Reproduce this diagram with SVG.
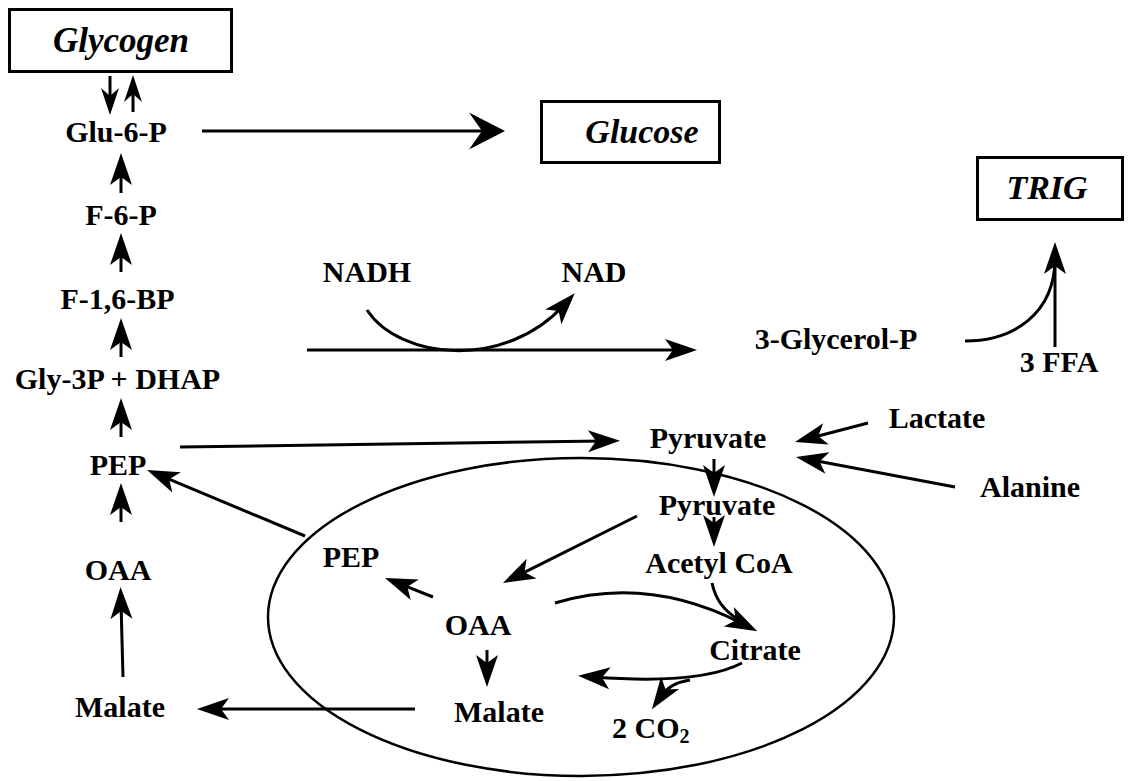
<svg xmlns="http://www.w3.org/2000/svg" width="1134" height="781" viewBox="0 0 1134 781">
<style>
text{font-family:"Liberation Serif","Times New Roman",serif;font-weight:bold;font-size:30px;fill:#000;text-anchor:middle}
.box{font-style:italic;font-size:34px}
.big{font-size:35px}
.sub{font-size:20px}
rect{fill:#fff;stroke:#000;stroke-width:3}
.c path,.c line{fill:none;stroke:#000;stroke-width:3}
</style>
<defs>
<marker id="a" markerUnits="userSpaceOnUse" viewBox="-18 -12 36 24" refX="0" refY="0" markerWidth="36" markerHeight="24" orient="auto" overflow="visible">
<path d="M16,0 L-16,-11 L-8,0 L-16,11 Z" fill="#000"/>
</marker>
<marker id="s" markerUnits="userSpaceOnUse" viewBox="-14 -10 28 20" refX="0" refY="0" markerWidth="28" markerHeight="20" orient="auto" overflow="visible">
<path d="M13,0 L-14,-9 L-6,0 L-14,9 Z" fill="#000"/>
</marker>
<marker id="L" markerUnits="userSpaceOnUse" viewBox="-20 -20 40 40" refX="0" refY="0" markerWidth="40" markerHeight="40" orient="auto" overflow="visible">
<path d="M18,0 L-18,-18.5 L-5,0 L-18,18.5 Z" fill="#000"/>
</marker>
</defs>

<g id="compartment">
<ellipse cx="581" cy="617" rx="313" ry="159" fill="none" stroke="#000" stroke-width="2.5"/>
</g>

<g id="glycogen"><rect x="9.5" y="9.5" width="222" height="62"/><text class="box big" x="121" y="52">Glycogen</text></g>
<g id="glucose"><rect x="541.5" y="101.5" width="178" height="61"/><text class="box" x="642" y="143">Glucose</text></g>
<g id="trig"><rect x="977.5" y="157.5" width="145" height="62"/><text class="box" x="1047" y="199">TRIG</text></g>

<g id="glu6p"><text x="116" y="142">Glu-6-P</text></g>
<g id="f6p"><text x="121" y="225">F-6-P</text></g>
<g id="f16bp"><text x="117.5" y="309">F-1,6-BP</text></g>
<g id="gly3p"><text x="117.5" y="389">Gly-3P + DHAP</text></g>
<g id="pep"><text x="118" y="475">PEP</text></g>
<g id="oaa"><text x="118" y="580">OAA</text></g>
<g id="malate"><text x="120" y="717">Malate</text></g>
<g id="nadh"><text x="367" y="282">NADH</text></g>
<g id="nad"><text x="594" y="282">NAD</text></g>
<g id="glycerolp"><text x="836" y="349">3-Glycerol-P</text></g>
<g id="ffa"><text x="1059" y="372">3 FFA</text></g>
<g id="lactate"><text x="937" y="428">Lactate</text></g>
<g id="alanine"><text x="1030" y="497">Alanine</text></g>
<g id="pyruvate"><text x="708" y="448">Pyruvate</text></g>
<g id="pyruvate-m"><text x="717" y="515">Pyruvate</text></g>
<g id="acetylcoa"><text x="719" y="573">Acetyl CoA</text></g>
<g id="pep-m"><text x="351" y="567">PEP</text></g>
<g id="oaa-m"><text x="478" y="635">OAA</text></g>
<g id="citrate"><text x="755" y="660">Citrate</text></g>
<g id="malate-m"><text x="499" y="722">Malate</text></g>
<g id="co2"><text x="612" y="738" style="text-anchor:start">2 CO<tspan class="sub" dy="5">2</tspan></text></g>

<g id="connectors" class="c">
<line x1="110" y1="76" x2="110" y2="102" marker-end="url(#s)"/>
<line x1="133" y1="112" x2="133" y2="88" marker-end="url(#s)"/>
<line x1="121" y1="193" x2="121" y2="169" marker-end="url(#a)"/>
<line x1="121" y1="272" x2="121" y2="249" marker-end="url(#a)"/>
<line x1="121" y1="357" x2="121" y2="334" marker-end="url(#a)"/>
<line x1="121" y1="437" x2="121" y2="414" marker-end="url(#a)"/>
<line x1="121" y1="522" x2="121" y2="499" marker-end="url(#a)"/>
<line x1="123" y1="677" x2="121" y2="603" marker-end="url(#a)"/>
<line x1="202" y1="131" x2="487" y2="131" marker-end="url(#L)"/>
<path d="M367,310 C400,360 505,370 564,305" marker-end="url(#a)"/>
<line x1="307" y1="350" x2="681" y2="350" marker-end="url(#a)"/>
<path d="M965,341 C1012,341 1055,315 1055,258" marker-end="url(#a)"/>
<line x1="1055" y1="347" x2="1055" y2="258"/>
<line x1="180" y1="447" x2="604" y2="441" marker-end="url(#a)"/>
<line x1="868" y1="423" x2="810.5" y2="438" marker-end="url(#a)"/>
<line x1="955" y1="487" x2="811.7" y2="460" marker-end="url(#a)"/>
<line x1="714" y1="459" x2="714" y2="481" marker-end="url(#a)"/>
<line x1="714" y1="517" x2="714" y2="531" marker-end="url(#a)"/>
<line x1="637" y1="516" x2="517.3" y2="575.8" marker-end="url(#a)"/>
<line x1="433" y1="597" x2="399.9" y2="583.9" marker-end="url(#a)"/>
<line x1="487" y1="650" x2="487" y2="671" marker-end="url(#a)"/>
<path d="M555,603 Q648,575 743,624" marker-end="url(#a)"/>
<path d="M712,583 Q717,607 738,619"/>
<path d="M742,663 Q700,685 594,677" marker-end="url(#a)"/>
<path d="M690,680 Q670,683 661,696" marker-end="url(#a)"/>
<line x1="305" y1="536" x2="161.8" y2="476.2" marker-end="url(#a)"/>
<line x1="415" y1="709" x2="213" y2="709" marker-end="url(#a)"/>
</g>
</svg>
